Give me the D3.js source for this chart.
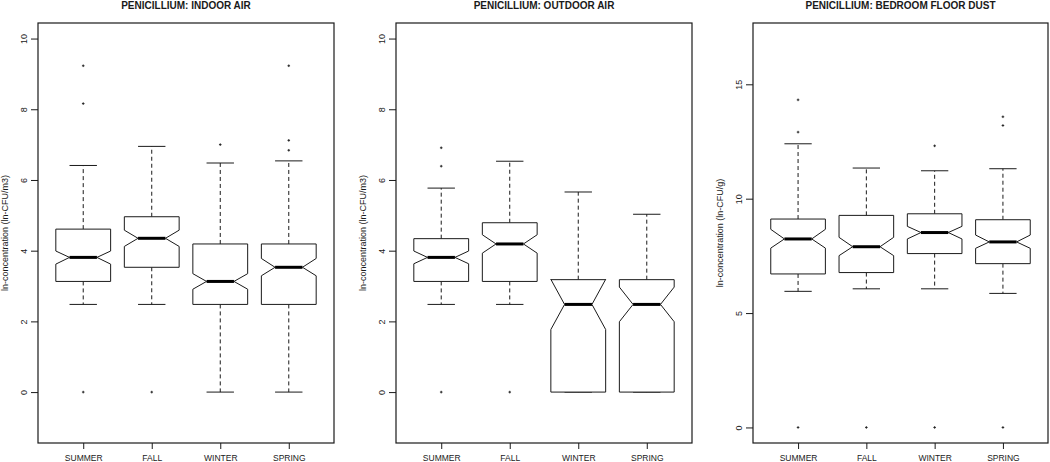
<!DOCTYPE html>
<html>
<head>
<meta charset="utf-8">
<script src="https://cdn.jsdelivr.net/npm/d3@7"></script>
<style>
  body { margin: 0; background: #fff; }
  svg { display: block; font-family: "Liberation Sans", Arial, sans-serif; }
</style>
</head>
<body>
<svg id="chart" width="1050" height="462"></svg>
<script>
// categories
const seasons = ["SUMMER", "FALL", "WINTER", "SPRING"];

// indoor air
const indoorLo     = [2.48, 2.48, 0.00, 0.00];
const indoorQ1     = [3.13, 3.53, 2.48, 2.48];
const indoorNotchLo = [3.62, 4.12, 2.91, 3.29];
const indoorMed    = [3.81, 4.35, 3.13, 3.53];
const indoorNotchHi = [3.99, 4.58, 3.35, 3.78];
const indoorQ3     = [4.61, 4.96, 4.19, 4.19];
const indoorHi     = [6.41, 6.95, 6.48, 6.54];
const indoorOut    = [[9.23, 8.16, 0], [0], [7.0], [9.23, 7.12, 6.84]];

// outdoor air
const outdoorLo     = [2.48, 2.48, 0.00, 0.00];
const outdoorQ1     = [3.13, 3.13, 0.00, 0.00];
const outdoorNotchLo = [3.63, 3.93, 1.77, 1.99];
const outdoorMed    = [3.81, 4.19, 2.48, 2.48];
const outdoorNotchHi = [3.99, 4.45, 3.19, 2.97];
const outdoorQ3     = [4.34, 4.79, 3.18, 3.18];
const outdoorHi     = [5.77, 6.53, 5.66, 5.03];
const outdoorOut    = [[6.91, 6.39, 0], [0], [], []];

// bedroom floor dust
const dustLo     = [5.95, 6.06, 6.06, 5.86];
const dustQ1     = [6.71, 6.77, 7.60, 7.16];
const dustNotchLo = [7.84, 7.51, 8.24, 7.83];
const dustMed    = [8.24, 7.90, 8.52, 8.11];
const dustNotchHi = [8.66, 8.31, 8.79, 8.41];
const dustQ3     = [9.11, 9.27, 9.34, 9.08];
const dustHi     = [12.40, 11.34, 11.22, 11.31];
const dustOut    = [[14.32, 12.91, 0], [0], [12.31, 0], [13.58, 13.2, 0]];

const airTicks = [0, 2, 4, 6, 8, 10];
const dustTicks = [0, 5, 10, 15];

function stats(lo, q1, nlo, med, nhi, q3, hi, out) {
  return seasons.map(function(s, i) {
    return { name: s, i: i + 1, lo: lo[i], q1: q1[i], nlo: nlo[i], med: med[i],
             nhi: nhi[i], q3: q3[i], hi: hi[i], out: out[i] };
  });
}

const panels = [
  { title: "PENICILLIUM: INDOOR AIR", ylab: "ln-concentration (ln-CFU/m3)",
    left: 38, right: 334, ylim: [-1, 10], ticks: airTicks,
    boxes: stats(indoorLo, indoorQ1, indoorNotchLo, indoorMed, indoorNotchHi, indoorQ3, indoorHi, indoorOut) },
  { title: "PENICILLIUM: OUTDOOR AIR", ylab: "ln-concentration (ln-CFU/m3)",
    left: 396, right: 692, ylim: [-1, 10], ticks: airTicks,
    boxes: stats(outdoorLo, outdoorQ1, outdoorNotchLo, outdoorMed, outdoorNotchHi, outdoorQ3, outdoorHi, outdoorOut) },
  { title: "PENICILLIUM: BEDROOM FLOOR DUST", ylab: "ln-concentration (ln-CFU/g)",
    left: 753, right: 1048, ylim: [0, 17], ticks: dustTicks,
    boxes: stats(dustLo, dustQ1, dustNotchLo, dustMed, dustNotchHi, dustQ3, dustHi, dustOut) }
];

const plotTop = 23, plotBottom = 443;
const ink = "#1a1a1a";
const svg = d3.select("#chart");

// R style 4% axis extension
function extend(r) {
  const d = (r[1] - r[0]) * 0.04;
  return [r[0] - d, r[1] + d];
}

panels.forEach(function(p) {
  const x = d3.scaleLinear().domain(extend([0.5, 4.5])).range([p.left, p.right]);
  const y = d3.scaleLinear().domain(extend(p.ylim)).range([plotBottom, plotTop]);
  const hw = x(1.4) - x(1);   // half box width (boxwex 0.8)
  const g = svg.append("g");

  // title
  g.append("text")
    .attr("x", (p.left + p.right) / 2)
    .attr("y", 9)
    .attr("text-anchor", "middle")
    .style("font-size", "10px")
    .style("font-weight", "bold")
    .style("fill", ink)
    .text(p.title);

  // y axis
  const yAxis = g.append("g")
    .attr("transform", "translate(" + p.left + ",0)")
    .call(d3.axisLeft(y).tickValues(p.ticks).tickSize(7).tickFormat(d3.format("d")));
  yAxis.select(".domain").remove();
  yAxis.selectAll(".tick line").attr("stroke", ink);
  yAxis.selectAll(".tick text")
    .attr("x", null)
    .attr("transform", "translate(-14.5,0) rotate(-90)")
    .attr("dy", "0.35em")
    .attr("text-anchor", "middle")
    .style("font-size", "9px")
    .style("font-family", "inherit")
    .style("fill", ink);

  g.append("text")
    .attr("transform", "translate(" + (p.left - 33) + "," + ((plotTop + plotBottom) / 2) + ") rotate(-90)")
    .attr("dy", "0.35em")
    .attr("text-anchor", "middle")
    .style("font-size", "9px")
    .style("fill", ink)
    .text(p.ylab);

  // x axis
  const xAxis = g.append("g")
    .attr("transform", "translate(0," + plotBottom + ")")
    .call(d3.axisBottom(x).tickValues([1, 2, 3, 4]).tickSize(6)
      .tickFormat(function(d) { return seasons[d - 1]; }));
  xAxis.select(".domain").remove();
  xAxis.selectAll(".tick line").attr("stroke", ink);
  xAxis.selectAll(".tick text")
    .attr("y", 15)
    .attr("dy", "0.35em")
    .style("font-size", "8.5px")
    .style("font-family", "inherit")
    .style("fill", ink);

  // frame
  g.append("rect")
    .attr("x", p.left).attr("y", plotTop)
    .attr("width", p.right - p.left).attr("height", plotBottom - plotTop)
    .attr("fill", "none").attr("stroke", ink).attr("stroke-width", 1.2);

  const box = g.selectAll(".box").data(p.boxes).enter().append("g").attr("class", "box");

  // whiskers
  box.append("line")
    .attr("x1", function(d) { return x(d.i); }).attr("x2", function(d) { return x(d.i); })
    .attr("y1", function(d) { return y(d.q3); }).attr("y2", function(d) { return y(d.hi); })
    .attr("stroke", ink).attr("stroke-dasharray", "4,3");
  box.append("line")
    .attr("x1", function(d) { return x(d.i); }).attr("x2", function(d) { return x(d.i); })
    .attr("y1", function(d) { return y(d.q1); }).attr("y2", function(d) { return y(d.lo); })
    .attr("stroke", ink).attr("stroke-dasharray", "4,3");
  ["hi", "lo"].forEach(function(k) {
    box.append("line")
      .attr("x1", function(d) { return x(d.i) - hw / 2; })
      .attr("x2", function(d) { return x(d.i) + hw / 2; })
      .attr("y1", function(d) { return y(d[k]); }).attr("y2", function(d) { return y(d[k]); })
      .attr("stroke", ink);
  });

  // notched box
  box.append("path")
    .attr("d", function(d) {
      const cx = x(d.i);
      const pts = [
        [cx - hw, y(d.q1)], [cx - hw, y(d.nlo)], [cx - hw / 2, y(d.med)],
        [cx - hw, y(d.nhi)], [cx - hw, y(d.q3)], [cx + hw, y(d.q3)],
        [cx + hw, y(d.nhi)], [cx + hw / 2, y(d.med)], [cx + hw, y(d.nlo)],
        [cx + hw, y(d.q1)]
      ];
      return d3.line()(pts) + "Z";
    })
    .attr("fill", "#fff").attr("stroke", ink).attr("stroke-width", 1);

  // median
  box.append("line")
    .attr("x1", function(d) { return x(d.i) - hw / 2; })
    .attr("x2", function(d) { return x(d.i) + hw / 2; })
    .attr("y1", function(d) { return y(d.med); }).attr("y2", function(d) { return y(d.med); })
    .attr("stroke", "#000").attr("stroke-width", 3);

  // outliers
  box.selectAll(".out")
    .data(function(d) { return d.out.map(function(v) { return { i: d.i, v: v }; }); })
    .enter().append("path")
    .attr("class", "out")
    .attr("d", function(d) {
      const cx = x(d.i), cy = y(d.v);
      return "M" + (cx - 1.3) + "," + cy + "H" + (cx + 1.3) + "M" + cx + "," + (cy - 1.3) + "V" + (cy + 1.3);
    })
    .attr("stroke", ink).attr("stroke-width", 0.9);
});
</script>
</body>
</html>
